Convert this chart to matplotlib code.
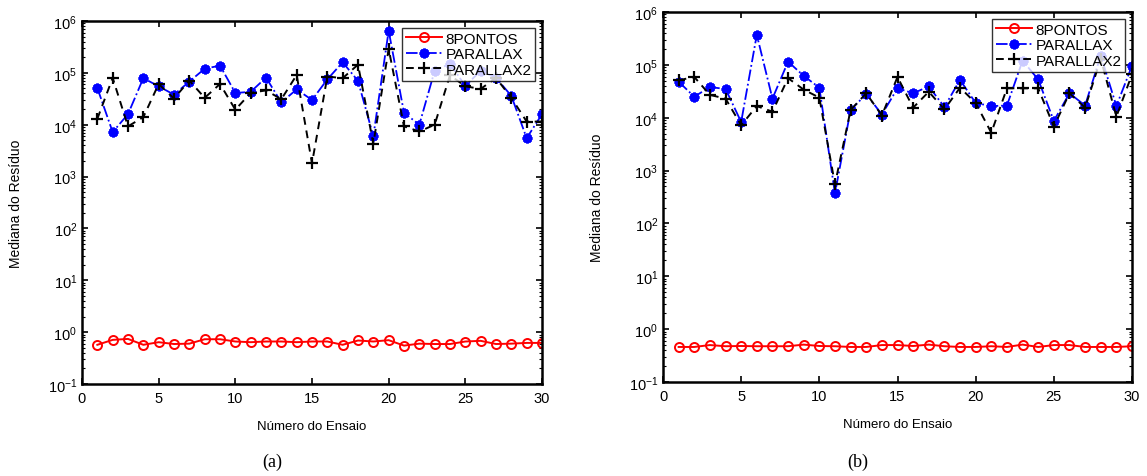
import matplotlib
matplotlib.use("Agg")
import matplotlib.pyplot as plt
from matplotlib.ticker import LogLocator, FixedLocator
import numpy as np

ensaio = list(range(1, 31))

# Panel (a)
a_8pontos = [0.57, 0.71, 0.74, 0.57, 0.64, 0.59, 0.60, 0.73, 0.73, 0.66,
             0.64, 0.66, 0.66, 0.64, 0.66, 0.66, 0.57, 0.69, 0.66, 0.70,
             0.55, 0.60, 0.59, 0.59, 0.66, 0.68, 0.59, 0.60, 0.62, 0.62]
a_parallax = [5.1e4, 7.2e3, 1.6e4, 7.9e4, 5.5e4, 3.8e4, 6.8e4, 1.2e5, 1.38e5, 4.1e4,
              4.3e4, 8.1e4, 2.7e4, 4.8e4, 3.0e4, 7.5e4, 1.6e5, 7.0e4, 6.0e3, 6.5e5,
              1.7e4, 1.0e4, 1.1e5, 1.5e5, 5.6e4, 1.1e5, 8.0e4, 3.6e4, 5.5e3, 1.6e4]
a_parallax2 = [1.3e4, 8.0e4, 9.3e3, 1.4e4, 6.1e4, 3.2e4, 7.1e4, 3.3e4, 6.1e4, 1.95e4,
               4.1e4, 4.6e4, 3.1e4, 9.1e4, 1.8e3, 8.5e4, 7.9e4, 1.44e5, 4.3e3, 2.9e5,
               9.3e3, 7.4e3, 1.0e4, 9.0e4, 5.5e4, 4.9e4, 8.0e4, 3.3e4, 1.15e4, 1.15e4]

# Panel (b)
b_8pontos = [0.46, 0.46, 0.50, 0.475, 0.48, 0.475, 0.475, 0.475, 0.51, 0.48,
             0.475, 0.46, 0.46, 0.50, 0.50, 0.48, 0.51, 0.475, 0.46, 0.46,
             0.475, 0.46, 0.51, 0.46, 0.50, 0.50, 0.46, 0.46, 0.46, 0.475]
b_parallax = [4.8e4, 2.5e4, 3.8e4, 3.5e4, 8.3e3, 3.7e5, 2.3e4, 1.15e5, 6.2e4, 3.7e4,
              3.7e2, 1.4e4, 2.8e4, 1.15e4, 3.6e4, 2.9e4, 3.9e4, 1.6e4, 5.2e4, 1.9e4,
              1.66e4, 1.7e4, 1.2e5, 5.3e4, 8.7e3, 2.9e4, 1.7e4, 1.5e5, 1.66e4, 9.6e4]
b_parallax2 = [5.1e4, 5.9e4, 2.7e4, 2.3e4, 7.2e3, 1.66e4, 1.3e4, 5.6e4, 3.4e4, 2.4e4,
               5.5e2, 1.4e4, 2.9e4, 1.1e4, 5.9e4, 1.55e4, 3.1e4, 1.44e4, 3.7e4, 1.9e4,
               5.2e3, 3.6e4, 3.6e4, 3.6e4, 6.8e3, 2.9e4, 1.55e4, 1.3e5, 1.05e4, 6.6e4]

series_names = ["8PONTOS", "PARALLAX", "PARALLAX2"]
xticks = [0, 5, 10, 15, 20, 25, 30]

plt.rcParams['font.family'] = ['Liberation Sans', 'DejaVu Sans']

fig = plt.figure(figsize=(11.47, 4.77), dpi=100)
ax_a = fig.add_axes([82/1147, 1-385/477, 460/1147, 363/477])
ax_b = fig.add_axes([663/1147, 1-383/477, 469/1147, 370/477])

def draw(ax, s1, s2, s3):
    ax.plot(ensaio, s1, color='red', linestyle='-', marker='o', markersize=6.5,
            markerfacecolor='none', markeredgewidth=1.4, linewidth=1.4, label=series_names[0])
    ax.plot(ensaio, s2, color='blue', linestyle='-.', marker=(8, 2, 0), markersize=7,
            markeredgewidth=2.0, linewidth=1.3, label=series_names[1])
    ax.plot(ensaio, s3, color='black', linestyle='--', marker='+', markersize=8.5,
            markeredgewidth=1.6, linewidth=1.4, dashes=(4, 3), label=series_names[2])
    ax.set_yscale('log')
    ax.set_ylim(1e-1, 1e6)
    ax.set_xlim(0, 30)
    ax.xaxis.set_major_locator(FixedLocator(xticks))
    ax.yaxis.set_major_locator(LogLocator(base=10, numticks=20))
    ax.yaxis.set_minor_locator(LogLocator(base=10, subs=np.arange(2, 10), numticks=20))
    ax.tick_params(axis='both', which='both', direction='in', top=True, right=True)
    ax.tick_params(axis='both', which='major', length=4, width=1.2, labelsize=10.5)
    ax.tick_params(axis='y', which='minor', length=2, width=0.8)
    ax.tick_params(axis='x', which='major', pad=5)
    for sp in ax.spines.values():
        sp.set_linewidth(1.8)
    ax.set_xlabel("Número do Ensaio", fontsize=9.5, labelpad=11)
    ax.set_ylabel("Mediana do Resíduo", fontsize=10, labelpad=18)
    leg = ax.legend(loc='upper right', fontsize=11, frameon=True, fancybox=False,
                    edgecolor='black', borderpad=0.25, labelspacing=0.1,
                    handlelength=2.4, handletextpad=0.2, borderaxespad=0.45)
    leg.get_frame().set_linewidth(1.0)

draw(ax_a, a_8pontos, a_parallax, a_parallax2)
draw(ax_b, b_8pontos, b_parallax, b_parallax2)

fig.text(272/1147, 1-462/477, "(a)", ha='center', va='center', fontsize=13, family=['Liberation Serif'])
fig.text(858/1147, 1-462/477, "(b)", ha='center', va='center', fontsize=13, family=['Liberation Serif'])

fig.savefig("out.png", dpi=100)
